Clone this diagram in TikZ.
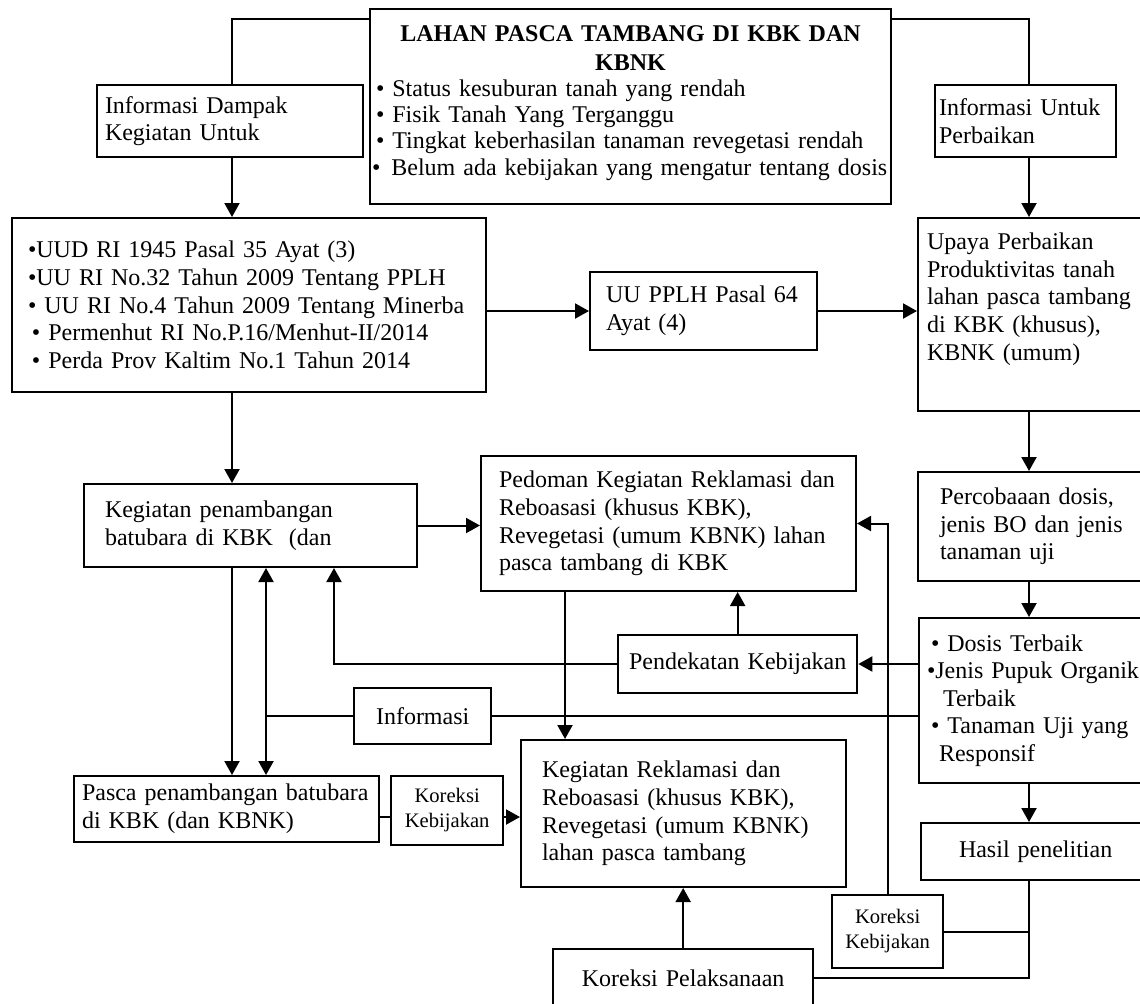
\documentclass[tikz,border=0pt]{standalone}
\usepackage{fontspec}
\setmainfont{Liberation Serif}
\usetikzlibrary{arrows.meta}
\tikzset{
  bx/.style={draw, line width=1pt, anchor=north west, inner ysep=0pt, align=left,
    font=\fontsize{12}{13.8}\selectfont},
  bxc/.style={bx, align=center},
  kcl/.style={bxc, font=\fontsize{10.3}{12.5}\selectfont},
  ar/.style={-{Triangle[length=7pt, width=7.5pt]}, line width=1pt},
  ln/.style={line width=1pt},
}
\begin{document}
\begin{tikzpicture}[x=0.5pt, y=-0.5pt]
\clip (0,0) rectangle (1140,1003);
% columns and rows of the connectors
\coordinate (top)   at (0,19);
\coordinate (kiri)  at (232,0);
\coordinate (info)  at (266,0);
\coordinate (pend)  at (334,0);
\coordinate (mid)   at (565,0);
\coordinate (kanan) at (1029,0);
\coordinate (pasc)  at (0,817);

\node[bx, inner xsep=1pt, text width=258.5pt, minimum height=97.5pt] (lahan) at (369,8)
  {{\centering\bfseries\fontsize{12}{14.5}\selectfont LAHAN PASCA TAMBANG DI KBK DAN\\KBNK\par}
   \fontsize{12}{13}\selectfont
   \,• Status kesuburan tanah yang rendah\\
   \,• Fisik Tanah Yang Terganggu\\
   \,• Tingkat keberhasilan tanaman revegetasi rendah\\
   \mbox{•\hspace{1.5pt} Belum ada kebijakan yang mengatur tentang dosis\rule[-6pt]{0pt}{6pt}}};
\node[bx, inner xsep=4pt, text width=125pt, minimum height=36pt] (infoD) at (96,84)
  {Informasi Dampak\\Kegiatan Untuk};
\node[bx, inner xsep=2pt, text width=86.5pt, minimum height=36pt] (infoU) at (934,84)
  {Informasi Untuk\\Perbaikan};

\node[bx, inner xsep=6pt, text width=225pt, minimum height=87pt] (uud) at (11,217)
  {\,•UUD RI 1945 Pasal 35 Ayat (3)\\
   \,•UU RI No.32 Tahun 2009 Tentang PPLH\\
   \,• UU RI No.4 Tahun 2009 Tentang Minerba\\
   \,\,• Permenhut RI No.P.16/Menhut-II/2014\\
   \,\,• Perda Prov Kaltim No.1 Tahun 2014};
\node[bx, inner xsep=6pt, text width=101.5pt, minimum height=39pt] (pplh) at (589,271)
  {\,UU PPLH Pasal 64\\\,Ayat (4)};
\node[bx, inner xsep=4.5pt, text width=111pt, minimum height=96.5pt] (upaya) at (917,217)
  {Upaya Perbaikan\\Produktivitas tanah\\lahan pasca tambang\\di KBK (khusus),\\KBNK (umum)\\ \strut};
\node[bx, inner xsep=11pt, text width=98pt, minimum height=54.5pt] (coba) at (917,471)
  {Percobaaan dosis,\\jenis BO dan jenis\\tanaman uji};
\node[bx, inner xsep=4pt, text width=112pt, minimum height=82.5pt] (dosis) at (918,617)
  {\,• Dosis Terbaik\\•Jenis Pupuk Organik\\\hspace*{8pt}Terbaik\\\,• Tanaman Uji yang\\\hspace*{6pt}Responsif};
\node[bx, inner xsep=19pt, text width=82pt, minimum height=28.5pt] (hasil) at (920,822)
  {Hasil penelitian};

\node[bx, inner xsep=10.5pt, text width=145.5pt, minimum height=41.5pt] (kegiatan) at (83,483)
  {Kegiatan penambangan\\batubara di KBK\ \ (dan};
\node[bx, inner xsep=9pt, text width=169.5pt, minimum height=67.5pt] (pedoman) at (480,455)
  {Pedoman Kegiatan Reklamasi dan\\Reboasasi (khusus KBK),\\Revegetasi (umum KBNK) lahan\\pasca tambang di KBK};
\node[bxc, text width=113pt, minimum height=29pt] (pendekatan) at (617,634)
  {Pendekatan Kebijakan};
\node[bxc, text width=62pt, minimum height=28pt] (informasi) at (353,687)
  {Informasi};
\node[bx, inner xsep=4pt, text width=144.5pt, minimum height=33pt] (pasca) at (73,775)
  {Pasca penambangan batubara\\di KBK (dan KBNK)};
\node[kcl, text width=49.5pt, minimum height=34.5pt] (kk1) at (390,775)
  {Koreksi\\Kebijakan};
\node[bx, inner xsep=10.5pt, text width=141.5pt, minimum height=73.5pt] (reklam) at (520,739)
  {Kegiatan Reklamasi dan\\Reboasasi (khusus KBK),\\Revegetasi (umum KBNK)\\lahan pasca tambang};
\node[kcl, text width=49pt, minimum height=36.5pt] (kk2) at (831,894)
  {Koreksi\\Kebijakan};
\node[bxc, text width=123.5pt, minimum height=29pt] (kpel) at (552,948)
  {Koreksi Pelaksanaan};

\draw[ln] (lahan.west |- top) -| (infoD.north -| kiri);
\draw[ln] (lahan.east |- top) -| (infoU.north -| kanan);
\draw[ar] (infoD.south -| kiri) -- (uud.north -| kiri);
\draw[ar] (infoU.south -| kanan) -- (upaya.north -| kanan);
\draw[ar] (uud.east |- pplh.west) -- (pplh.west);
\draw[ar] (pplh.east) -- (pplh.east -| upaya.west);
\draw[ar] (upaya.south -| kanan) -- (coba.north -| kanan);
\draw[ar] (coba.south -| kanan) -- (dosis.north -| kanan);
\draw[ar] (dosis.south -| kanan) -- (hasil.north -| kanan);
\draw[ln] (hasil.south -| kanan) |- (kpel.east);
\draw[ln] (kk2.east) -- (kk2.east -| kanan);
\draw[ar] (kk2.north) |- (pedoman.east);
\draw[ar] (dosis.west |- pendekatan.east) -- (pendekatan.east);
\draw[ar] (pendekatan.north) -- (pendekatan.north |- pedoman.south);
\draw[ar] (pendekatan.west) -| (kegiatan.south -| pend);
\draw[ar] (uud.south -| kiri) -- (kegiatan.north -| kiri);
\draw[ar] (kegiatan.east) -- (kegiatan.east -| pedoman.west);
\draw[ar] (kegiatan.south -| kiri) -- (pasca.north -| kiri);
\draw[ar] (pedoman.south -| mid) -- (reklam.north -| mid);
\draw[ln] (informasi.east) -- (informasi.east -| dosis.west);
\draw[ln] (informasi.west) -- (informasi.west -| info);
\draw[ar] (informasi.west -| info) -- (kegiatan.south -| info);
\draw[ar] (informasi.west -| info) -- (pasca.north -| info);
\draw[ln] (pasca.east |- pasc) -- (kk1.west |- pasc);
\draw[ar] (kk1.east |- pasc) -- (reklam.west |- pasc);
\draw[ar] (kpel.north) -- (kpel.north |- reklam.south);
\end{tikzpicture}
\end{document}
